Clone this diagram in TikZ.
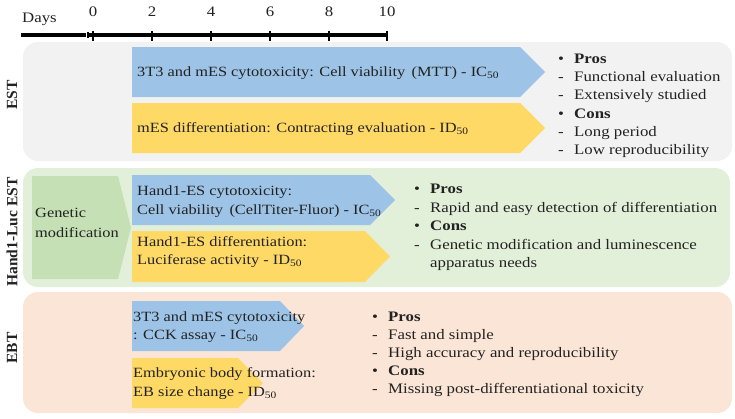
\documentclass[tikz,border=0pt]{standalone}
\usepackage{fontspec}
\setmainfont{Liberation Serif}[FakeStretch=1.16]
\newfontfamily\sidefont{Liberation Serif}
\definecolor{panelgray}{HTML}{F2F2F2}
\definecolor{panelgreen}{HTML}{E2F0D9}
\definecolor{panelpeach}{HTML}{FBE5D6}
\definecolor{arrowblue}{HTML}{9DC3E6}
\definecolor{arrowyellow}{HTML}{FFD966}
\definecolor{genegreen}{HTML}{C5E0B4}
\definecolor{ink}{HTML}{222222}
\newcommand{\fsz}{14.5}
\newcommand{\asz}{14.1}
\tikzset{
  panel/.style={rounded corners=15pt},
  txt/.style={inner sep=0pt, anchor=base west, text=ink, font=\fontsize{\fsz}{18}\selectfont},
  side/.style={inner sep=0pt, rotate=90, text=ink, font=\sidefont\bfseries\fontsize{15.5}{15}\selectfont},
  tlaxis/.style={line width=3.4pt, draw=black},
  tltick/.style={line width=2.6pt, draw=black},
  daylbl/.style={inner sep=0pt, text=ink, font=\fontsize{\fsz}{14}\selectfont},
}
\newcommand{\plist}[2]{\fontsize{\fsz}{#1}\selectfont\begin{tabular}[t]{@{}p{16pt}@{}l@{}}#2\end{tabular}}
\newcommand{\tlines}[2]{\fontsize{\asz}{#1}\selectfont\begin{tabular}[t]{@{}l@{}}#2\end{tabular}}
\begin{document}
\begin{tikzpicture}[x=1pt,y=-1pt]
\useasboundingbox (0,0) rectangle (735,418);
% timeline
\coordinate (axL) at (21,35);
\coordinate (axM) at (86,35);
\coordinate (axN) at (88,35);
\coordinate (axR) at (387,35);
\draw[tlaxis] (axL) -- (axM);
\draw[tlaxis] (axN) -- (axR);
\draw[tltick] (88,32) -- (88,38);
\foreach \d/\x in {0/93,2/152,4/211,6/270,8/329,10/387}{
  \draw[tltick] (\x,30.5) -- (\x,41);
  \node[daylbl] (day\d) at (\x,12) {\d};
}
\node[daylbl, anchor=base west] (days) at (22,22.5) {Days};
% panels
\fill[panelgray, panel] (23,42) rectangle (732,161);
\fill[panelgreen, panel] (23,168) rectangle (730,287);
\fill[panelpeach, panel] (23,292) rectangle (732,413);
% side labels
\node[side] (lest) at (12,95) {EST};
\node[side] (lhand) at (12,232) {Hand1-Luc EST};
\node[side] (lebt) at (12,348) {EBT};
% EST arrows
\fill[arrowblue] (132,47) -- (520,47) -- (545,72) -- (520,97) -- (132,97) -- cycle;
\fill[arrowyellow] (132,103) -- (520,103) -- (545,128) -- (520,153) -- (132,153) -- cycle;
\node[txt] (estb) at (137,76.5) {\tlines{18pt}{3T3 and mES cytotoxicity: Cell viability\ \,(MTT) - IC\textsubscript{50}}};
\node[txt] (esty) at (137,132.5) {\tlines{18pt}{mES differentiation: Contracting evaluation - ID\textsubscript{50}}};
\node[txt] (estpc) at (558,63.5) {\plist{18.2pt}{\textbullet & \textbf{Pros}\\ - & Functional evaluation\\ - & Extensively studied\\ \textbullet & \textbf{Cons}\\ - & Long period\\ - & Low reproducibility}};
% Hand1-Luc EST
\fill[genegreen] (32,176) -- (118,176) -- (131,227.5) -- (118,279) -- (32,279) -- cycle;
\node[txt] (gene) at (35,217.5) {\tlines{20pt}{Genetic\\ modification}};
\fill[arrowblue] (132,175) -- (370,175) -- (395,200) -- (370,225) -- (132,225) -- cycle;
\fill[arrowyellow] (132,231) -- (365,231) -- (390,256.5) -- (365,282) -- (132,282) -- cycle;
\node[txt] (handb) at (137,195.5) {\tlines{19pt}{Hand1-ES cytotoxicity:\\ Cell viability\ \,(CellTiter-Fluor) - IC\textsubscript{50}}};
\node[txt] (handy) at (137,246.5) {\tlines{18pt}{Hand1-ES differentiation:\\ Luciferase activity - ID\textsubscript{50}}};
\node[txt] (handpc) at (414,193.5) {\plist{18.5pt}{\textbullet & \textbf{Pros}\\ - & Rapid and easy detection of differentiation\\ \textbullet & \textbf{Cons}\\ - & Genetic modification and luminescence\\ & apparatus needs}};
% EBT
\fill[arrowblue] (132,301) -- (280,301) -- (304,326) -- (280,351) -- (132,351) -- cycle;
\fill[arrowyellow] (132,358) -- (238,358) -- (263,383) -- (238,408) -- (132,408) -- cycle;
\node[txt] (ebtb) at (133,321.5) {\tlines{18pt}{3T3 and mES cytotoxicity\\ : CCK assay - IC\textsubscript{50}}};
\node[txt] (ebty) at (133,377.5) {\tlines{19pt}{Embryonic body formation:\\ EB size change - ID\textsubscript{50}}};
\node[txt] (ebtpc) at (372,321.5) {\plist{18pt}{\textbullet & \textbf{Pros}\\ - & Fast and simple\\ - & High accuracy and reproducibility\\ \textbullet & \textbf{Cons}\\ - & Missing post-differentiational toxicity}};
\end{tikzpicture}
\end{document}
